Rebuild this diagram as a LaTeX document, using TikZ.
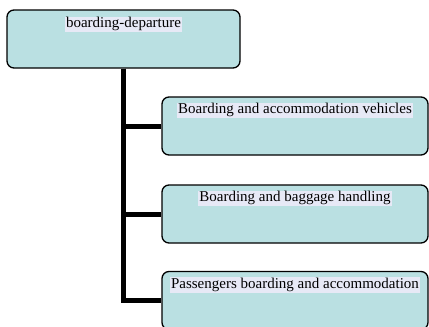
\documentclass[tikz,border=0pt]{standalone}
\usepackage{fontspec}
\setmainfont{Liberation Serif}
\usepackage{tikz}
\usetikzlibrary{positioning}
\definecolor{BoxTeal}{HTML}{BAE0E2}
\definecolor{TagLav}{HTML}{E7E9F6}

\begin{document}
\begin{tikzpicture}[
  x=1pt,y=-1pt,
  box/.style={rounded corners=7pt,draw=black,line width=1.3pt,fill=BoxTeal,
    minimum height=58pt,inner sep=0pt},
  tag/.style={fill=TagLav,inner sep=1pt,font=\fontsize{15}{17}\selectfont},
  trunk/.style={line width=5pt,line join=miter,color=black}
]
  \clip (0,0) rectangle (429,327);
  \node[box,minimum width=233pt] (top) at (123.5,39) {};
  \node[tag,below=7pt of top.north] (toptag) {boarding-departure};

  \node[box,minimum width=266pt] (veh) at (295,126) {};
  \node[tag,below=6pt of veh.north] (vehtag) {Boarding and accommodation vehicles};
  \node[box,minimum width=266pt] (bag) at (295,214) {};
  \node[tag,below=6pt of bag.north] (bagtag) {Boarding and baggage handling};
  \node[box,minimum width=266pt] (pax) at (295,300.5) {};
  \node[tag,below=6pt of pax.north] (paxtag) {Passengers boarding and accommodation};

  \draw[trunk] (top.south) |- (pax.west);
  \draw[trunk] (top.south) |- (veh.west);
  \draw[trunk] (top.south) |- (bag.west);
\end{tikzpicture}
\end{document}
